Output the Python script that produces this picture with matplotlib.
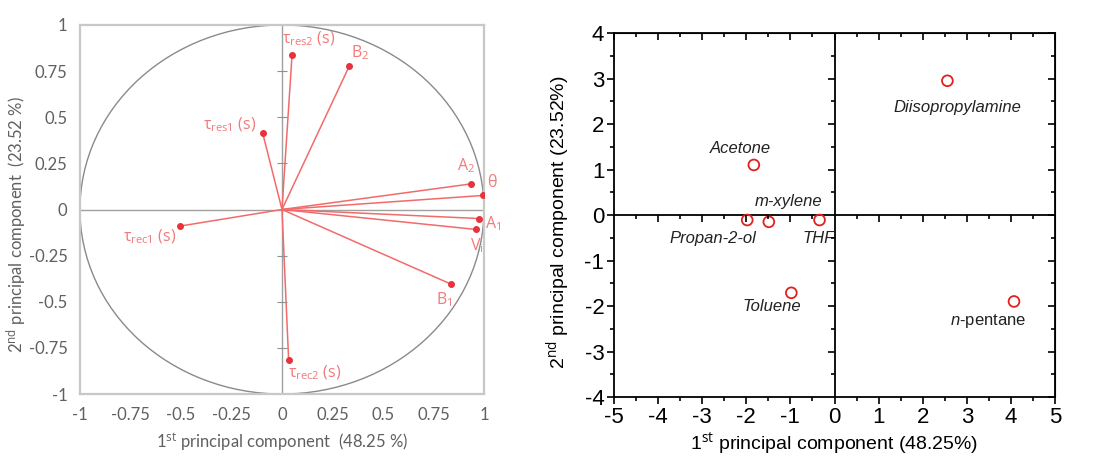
import numpy as np
import matplotlib
matplotlib.use("Agg")
import matplotlib.pyplot as plt
from matplotlib.patches import Ellipse

plt.rcParams["mathtext.fontset"] = "custom"
plt.rcParams["mathtext.rm"] = "Open Sans"
plt.rcParams["mathtext.it"] = "Liberation Sans:italic"
plt.rcParams["axes.unicode_minus"] = False

# ---- loadings (left panel) ----
varNames = [r"$\mathrm{\tau_{res2}}$ (s)", r"B$_{\mathrm{2}}$", r"$\mathrm{\tau_{res1}}$ (s)",
            r"A$_{\mathrm{2}}$", "θ", r"A$_{\mathrm{1}}$", r"V$_{\mathrm{i}}$", r"B$_{\mathrm{1}}$",
            r"$\mathrm{\tau_{rec1}}$ (s)", r"$\mathrm{\tau_{rec2}}$ (s)"]
loadPC1 = [0.05, 0.333, -0.096, 0.937, 0.993, 0.975, 0.959, 0.838, -0.505, 0.033]
loadPC2 = [0.84, 0.777, 0.416, 0.139, 0.076, -0.049, -0.108, -0.405, -0.09, -0.815]

# ---- scores (right panel) ----
solvNames = ["Diisopropylamine", "Acetone", "m-xylene", "Propan-2-ol", "THF", "Toluene", r"$\mathit{n}$-pentane"]
scorePC1 = [2.56, -1.83, -1.49, -1.98, -0.34, -0.98, 4.07]
scorePC2 = [2.95, 1.10, -0.15, -0.11, -0.11, -1.71, -1.90]

# label offsets in points (layout only)
varOffs  = [(12, 11), (8, 10), (-24, 6), (-4, 13), (7, 9), (10, -4), (1, -12), (-5, -11), (-22, -8), (19, -9)]
solvOffs = [(7, -19), (-10, 12), (14, 15), (-25, -13), (-1, -13), (-14, -10), (-19, -14)]

redLine = "#f26b6b"
redDot  = "#e8323c"
redTxt  = "#f27a7a"
grayTxt = "#606060"

fig = plt.figure(figsize=(11.06, 4.61), dpi=100)

# ================= left: loadings circle =================
rectL = [0.0723, 0.1453, 0.3653, 0.8005]
axL = fig.add_axes(rectL)
axL.set_xlim(-1, 1)
axL.set_ylim(-1, 1)
for sp in axL.spines.values():
  sp.set_color("#c8c8c8")
  sp.set_linewidth(1.6)
axL.add_patch(Ellipse((0, 0), 2, 2, fill=False, edgecolor="#8a8a8a", lw=1.0))
axL.axhline(0, color="#a0a0a0", lw=1.0)
axL.axvline(0, color="#a0a0a0", lw=1.0)
ticksL = [-1, -0.75, -0.5, -0.25, 0, 0.25, 0.5, 0.75, 1]
tickLblL = ["-1", "-0.75", "-0.5", "-0.25", "0", "0.25", "0.5", "0.75", "1"]
axL.set_xticks(ticksL, tickLblL)
axL.set_yticks(ticksL, tickLblL)
axL.tick_params(length=0, pad=9, labelsize=12, labelcolor=grayTxt)
for lb in axL.get_xticklabels() + axL.get_yticklabels():
  lb.set_fontfamily("Lato")
axL.set_xlabel(r"1$^{\mathrm{st}}$ principal component  (48.25 %)", fontfamily="Lato", fontsize=12, color=grayTxt)
axL.set_ylabel(r"2$^{\mathrm{nd}}$ principal component  (23.52 %)", fontfamily="Lato", fontsize=12, color=grayTxt)
axL.xaxis.set_label_coords(0.5, -0.1)
axL.yaxis.set_label_coords(-0.125, 0.46)

# small tick marks on the central vertical axis
axLz = fig.add_axes(rectL, frameon=False)
axLz.set_xlim(-1, 1)
axLz.set_ylim(-1, 1)
axLz.patch.set_visible(False)
axLz.spines["left"].set_visible(True)
axLz.spines["left"].set_position(("data", 0))
axLz.spines["left"].set_color("none")
axLz.set_xticks([])
axLz.set_yticks([-0.75, -0.5, -0.25, 0.25, 0.5, 0.75])
axLz.tick_params(axis="y", direction="inout", length=7, color="#909090", labelleft=False)

for x, y in zip(loadPC1, loadPC2):
  axL.plot([0, x], [0, y], color=redLine, lw=1.1)
axL.scatter(loadPC1, loadPC2, s=16, color=redDot, zorder=5)
for nm, x, y, off in zip(varNames, loadPC1, loadPC2, varOffs):
  axL.annotate(nm, (x, y), xytext=off, textcoords="offset points", ha="center", va="center",
               color=redTxt, fontsize=11.5, fontfamily="Open Sans")

# ================= right: scores =================
rectR = [0.5552, 0.1388, 0.3987, 0.7896]
axR = fig.add_axes(rectR)
axR.set_xlim(-5, 5)
axR.set_ylim(-4, 4)
for sp in axR.spines.values():
  sp.set_linewidth(1.3)
axR.axhline(0, color="black", lw=1.3)
axR.axvline(0, color="black", lw=1.3)
axR.set_xticks(np.arange(-5, 6, 1))
axR.set_yticks(np.arange(-4, 5, 1))
axR.set_xticks(np.arange(-4.5, 5, 1), minor=True)
axR.set_yticks(np.arange(-3.5, 4, 1), minor=True)
axR.tick_params(which="both", direction="out", width=1.2, labelsize=16, pad=2)
axR.tick_params(which="major", length=5)
axR.tick_params(which="minor", length=3)
for lb in axR.get_xticklabels() + axR.get_yticklabels():
  lb.set_fontfamily("Liberation Sans")

secX = axR.secondary_xaxis("top")
secX.set_xticks(np.arange(-5, 6, 1))
secX.set_xticks(np.arange(-4.5, 5, 1), minor=True)
secX.tick_params(which="both", direction="in", width=1.2, labeltop=False)
secX.tick_params(which="major", length=5)
secX.tick_params(which="minor", length=3)
secY = axR.secondary_yaxis("right")
secY.set_yticks(np.arange(-4, 5, 1))
secY.set_yticks(np.arange(-3.5, 4, 1), minor=True)
secY.tick_params(which="both", direction="in", width=1.2, labelright=False)
secY.tick_params(which="major", length=5)
secY.tick_params(which="minor", length=3)

# tick marks along the zero lines
axRz = fig.add_axes(rectR, frameon=False)
axRz.set_xlim(-5, 5)
axRz.set_ylim(-4, 4)
axRz.patch.set_visible(False)
for side in ["left", "bottom"]:
  axRz.spines[side].set_visible(True)
  axRz.spines[side].set_position(("data", 0))
  axRz.spines[side].set_color("none")
axRz.set_xticks([t for t in range(-4, 5) if t != 0])
axRz.set_yticks([t for t in range(-3, 4) if t != 0])
axRz.set_xticks(np.arange(-4.5, 5, 1), minor=True)
axRz.set_yticks(np.arange(-3.5, 4, 1), minor=True)
axRz.tick_params(which="both", direction="out", width=1.2, labelleft=False, labelbottom=False)
axRz.tick_params(which="major", length=5)
axRz.tick_params(which="minor", length=3)

axR.scatter(scorePC1, scorePC2, s=60, facecolors="none", edgecolors="#e32020", linewidths=1.3, zorder=5)
for nm, x, y, off in zip(solvNames, scorePC1, scorePC2, solvOffs):
  style = "normal" if nm.startswith("$") else "italic"
  axR.annotate(nm, (x, y), xytext=off, textcoords="offset points", ha="center", va="center",
               fontsize=12, fontfamily="Liberation Sans", fontstyle=style, color="#222222")

axR.set_xlabel(r"1$^{\mathrm{st}}$ principal component (48.25%)", fontfamily="Liberation Sans", fontsize=14)
axR.set_ylabel(r"2$^{\mathrm{nd}}$ principal component (23.52%)", fontfamily="Liberation Sans", fontsize=14)
axR.xaxis.set_label_coords(0.5, -0.09)
axR.yaxis.set_label_coords(-0.095, 0.48)

fig.savefig("out.png", dpi=100)
